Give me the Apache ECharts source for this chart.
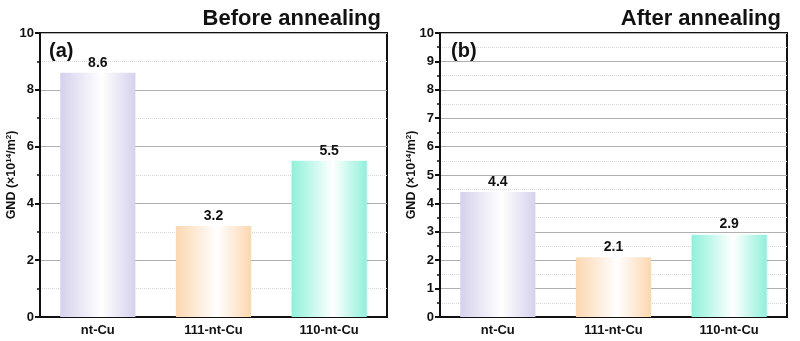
<!DOCTYPE html>
<html><head><meta charset="utf-8">
<script src="https://cdn.jsdelivr.net/npm/echarts@6/dist/echarts.min.js"></script>
<style>html,body{margin:0;padding:0;background:#fff}#c{width:800px;height:341px}</style>
</head><body><div id="c"></div>
<script>
const categories = ['nt-Cu', '111-nt-Cu', '110-nt-Cu'];
const beforeValues = [8.6, 3.2, 5.5];
const afterValues = [4.4, 2.1, 2.9];
const barColors = ['#d5d1ed', '#fcd7b0', '#8ef1da'];
const titles = ['Before annealing', 'After annealing'];
const panelLabels = ['(a)', '(b)'];

const FONT = 'Liberation Sans, Arial, sans-serif';
function grad(c) {
  return new echarts.graphic.LinearGradient(0, 0, 1, 0, [
    {offset: 0, color: c}, {offset: 0.55, color: '#ffffff'}, {offset: 1, color: c}
  ]);
}
function dataFor(vals) {
  return vals.map((v, i) => ({value: v, itemStyle: {color: grad(barColors[i])}}));
}
const grids = [
  {left: 40, right: 413, top: 33, bottom: 24, outerBoundsMode: 'none', containLabel: false, show: true, borderColor: '#111', borderWidth: 2, backgroundColor: 'transparent'},
  {left: 440, right: 13, top: 33, bottom: 24, outerBoundsMode: 'none', containLabel: false, show: true, borderColor: '#111', borderWidth: 2, backgroundColor: 'transparent'}
];
function xAxis(i) {
  return {type: 'category', gridIndex: i, data: categories,
    axisLine: {lineStyle: {color: '#111', width: 2}}, axisTick: {show: false},
    axisLabel: {fontFamily: FONT, fontWeight: 'bold', fontSize: 13, color: '#111', margin: 7}};
}
function yAxis(i, interval) {
  return {type: 'value', gridIndex: i, min: 0, max: 10, interval: interval,
    name: '{a|GND (×10}{s|14}{a|/m}{s|2}{a|)}', nameLocation: 'middle', nameGap: 21, nameRotate: 90,
    nameMoveOverlap: false,
    nameTextStyle: {rich: {a: {fontFamily: FONT, fontWeight: 'bold', fontSize: 12.5, color: '#111'},
      s: {fontFamily: FONT, fontWeight: 'bold', fontSize: 8, color: '#111', verticalAlign: 'top', padding: [0,0,6,0]}}},
    axisLine: {show: true, lineStyle: {color: '#111', width: 2}},
    axisTick: {show: true, inside: false, length: 5, lineStyle: {color: '#111', width: 2}},
    minorTick: {show: true, splitNumber: 2, length: 3, lineStyle: {color: '#111', width: 1.5}},
    splitLine: {show: true, lineStyle: {color: '#b0b0b0', width: 1}},
    minorSplitLine: {show: true, lineStyle: {color: '#d8d8d8', width: 1, type: 'dotted'}},
    axisLabel: {fontFamily: FONT, fontWeight: 'bold', fontSize: 13, color: '#111', margin: 6}};
}
function series(i, vals) {
  return {type: 'bar', xAxisIndex: i, yAxisIndex: i, barWidth: '65%', data: dataFor(vals),
    label: {show: true, position: 'top', distance: 3, fontFamily: FONT, fontWeight: 'bold', fontSize: 14, color: '#111',
      formatter: p => p.value.toFixed(1)}, z: 3};
}
const chart = echarts.init(document.getElementById('c'), null, {renderer: 'canvas'});
chart.setOption({
  animation: false,
  title: [
    {text: titles[0], right: 414, top: 3, textStyle: {fontFamily: FONT, fontWeight: 'bold', fontSize: 22, color: '#111'}},
    {text: titles[1], right: 14, top: 3, textStyle: {fontFamily: FONT, fontWeight: 'bold', fontSize: 22, color: '#111'}},
    {text: panelLabels[0], left: 44, top: 36, textStyle: {fontFamily: FONT, fontWeight: 'bold', fontSize: 20, color: '#111'}},
    {text: panelLabels[1], left: 446, top: 36, textStyle: {fontFamily: FONT, fontWeight: 'bold', fontSize: 20, color: '#111'}}
  ],
  grid: grids,
  xAxis: [xAxis(0), xAxis(1)],
  yAxis: [yAxis(0, 2), yAxis(1, 1)],
  series: [series(0, beforeValues), series(1, afterValues)]
});
</script></body></html>
